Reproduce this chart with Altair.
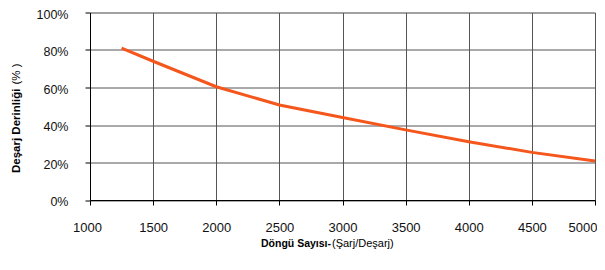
import altair as alt
import pandas as pd

cycles = [1250, 1500, 2000, 2500, 3000, 3500, 4000, 4500, 5000]
dod = [0.81, 0.74, 0.604, 0.507, 0.44, 0.374, 0.311, 0.254, 0.208]
x_ticks = [1000, 1500, 2000, 2500, 3000, 3500, 4000, 4500, 5000]
y_ticks = [0, 0.2, 0.4, 0.6, 0.8, 1.0]

df = pd.DataFrame({"cycles": cycles, "dod": dod})

LABEL_FONT = "Liberation Sans"
TITLE_FONT = "Liberation Sans"

line = alt.Chart(df).mark_line(color="#F4561C", strokeWidth=3).encode(
    x=alt.X("cycles:Q",
            scale=alt.Scale(domain=[1000, 5000], nice=False, zero=False),
            axis=alt.Axis(values=x_ticks, title=None, format="d",
                          labelFont=LABEL_FONT, labelFontSize=13, labelColor="#111",
                          labelPadding=16, tickSize=5, tickColor="#000",
                          labelFlush=False,
                          labelAlign={"expr": "datum.value == 5000 ? 'right' : 'center'"},
                          labelOffset={"expr": "datum.value == 5000 ? 2 : (datum.value == 1000 ? -3 : 0)"},
                          domainColor="#000", gridColor="#555", gridWidth=1)),
    y=alt.Y("dod:Q",
            scale=alt.Scale(domain=[0, 1], nice=False),
            axis=alt.Axis(values=y_ticks, title=None, format=".0%",
                          labelFont=LABEL_FONT, labelFontSize=12.5, labelColor="#111",
                          labelPadding=17, tickSize=5, tickColor="#000",
                          labelFlush=False, labelOffset=1.5,
                          domainColor="#000", gridColor="#555", gridWidth=1)),
)

title_df = pd.DataFrame({"t": [0]})

x_bold = alt.Chart(title_df).mark_text(
    text="Döngü Sayısı-", font=TITLE_FONT, fontWeight="bold", fontSize=10.5,
    align="left", baseline="middle", color="#000"
).encode(x=alt.value(171), y=alt.value(231.5))

x_norm = alt.Chart(title_df).mark_text(
    text="(Şarj/Deşarj)", font=TITLE_FONT, fontSize=11,
    align="left", baseline="middle", color="#000"
).encode(x=alt.value(242), y=alt.value(231.5))

y_bold = alt.Chart(title_df).mark_text(
    text="Deşarj Derinliği", font=TITLE_FONT, fontWeight="bold", fontSize=11.5,
    align="left", baseline="middle", angle=270, color="#000"
).encode(x=alt.value(-73), y=alt.value(160.5))

y_norm = alt.Chart(title_df).mark_text(
    text="(% )", font=TITLE_FONT, fontSize=11.5,
    align="left", baseline="middle", angle=270, color="#000"
).encode(x=alt.value(-73), y=alt.value(72))

chart = alt.layer(line, x_bold, x_norm, y_bold, y_norm).properties(
    width=505, height=187.5,
    autosize=alt.AutoSizeParams(type="none"),
    padding={"left": 82, "top": 4.5, "right": 2, "bottom": 60},
).configure_view(stroke=None).configure(background="white")

chart.save("out.html", embed_options={"renderer": "svg", "actions": False})
